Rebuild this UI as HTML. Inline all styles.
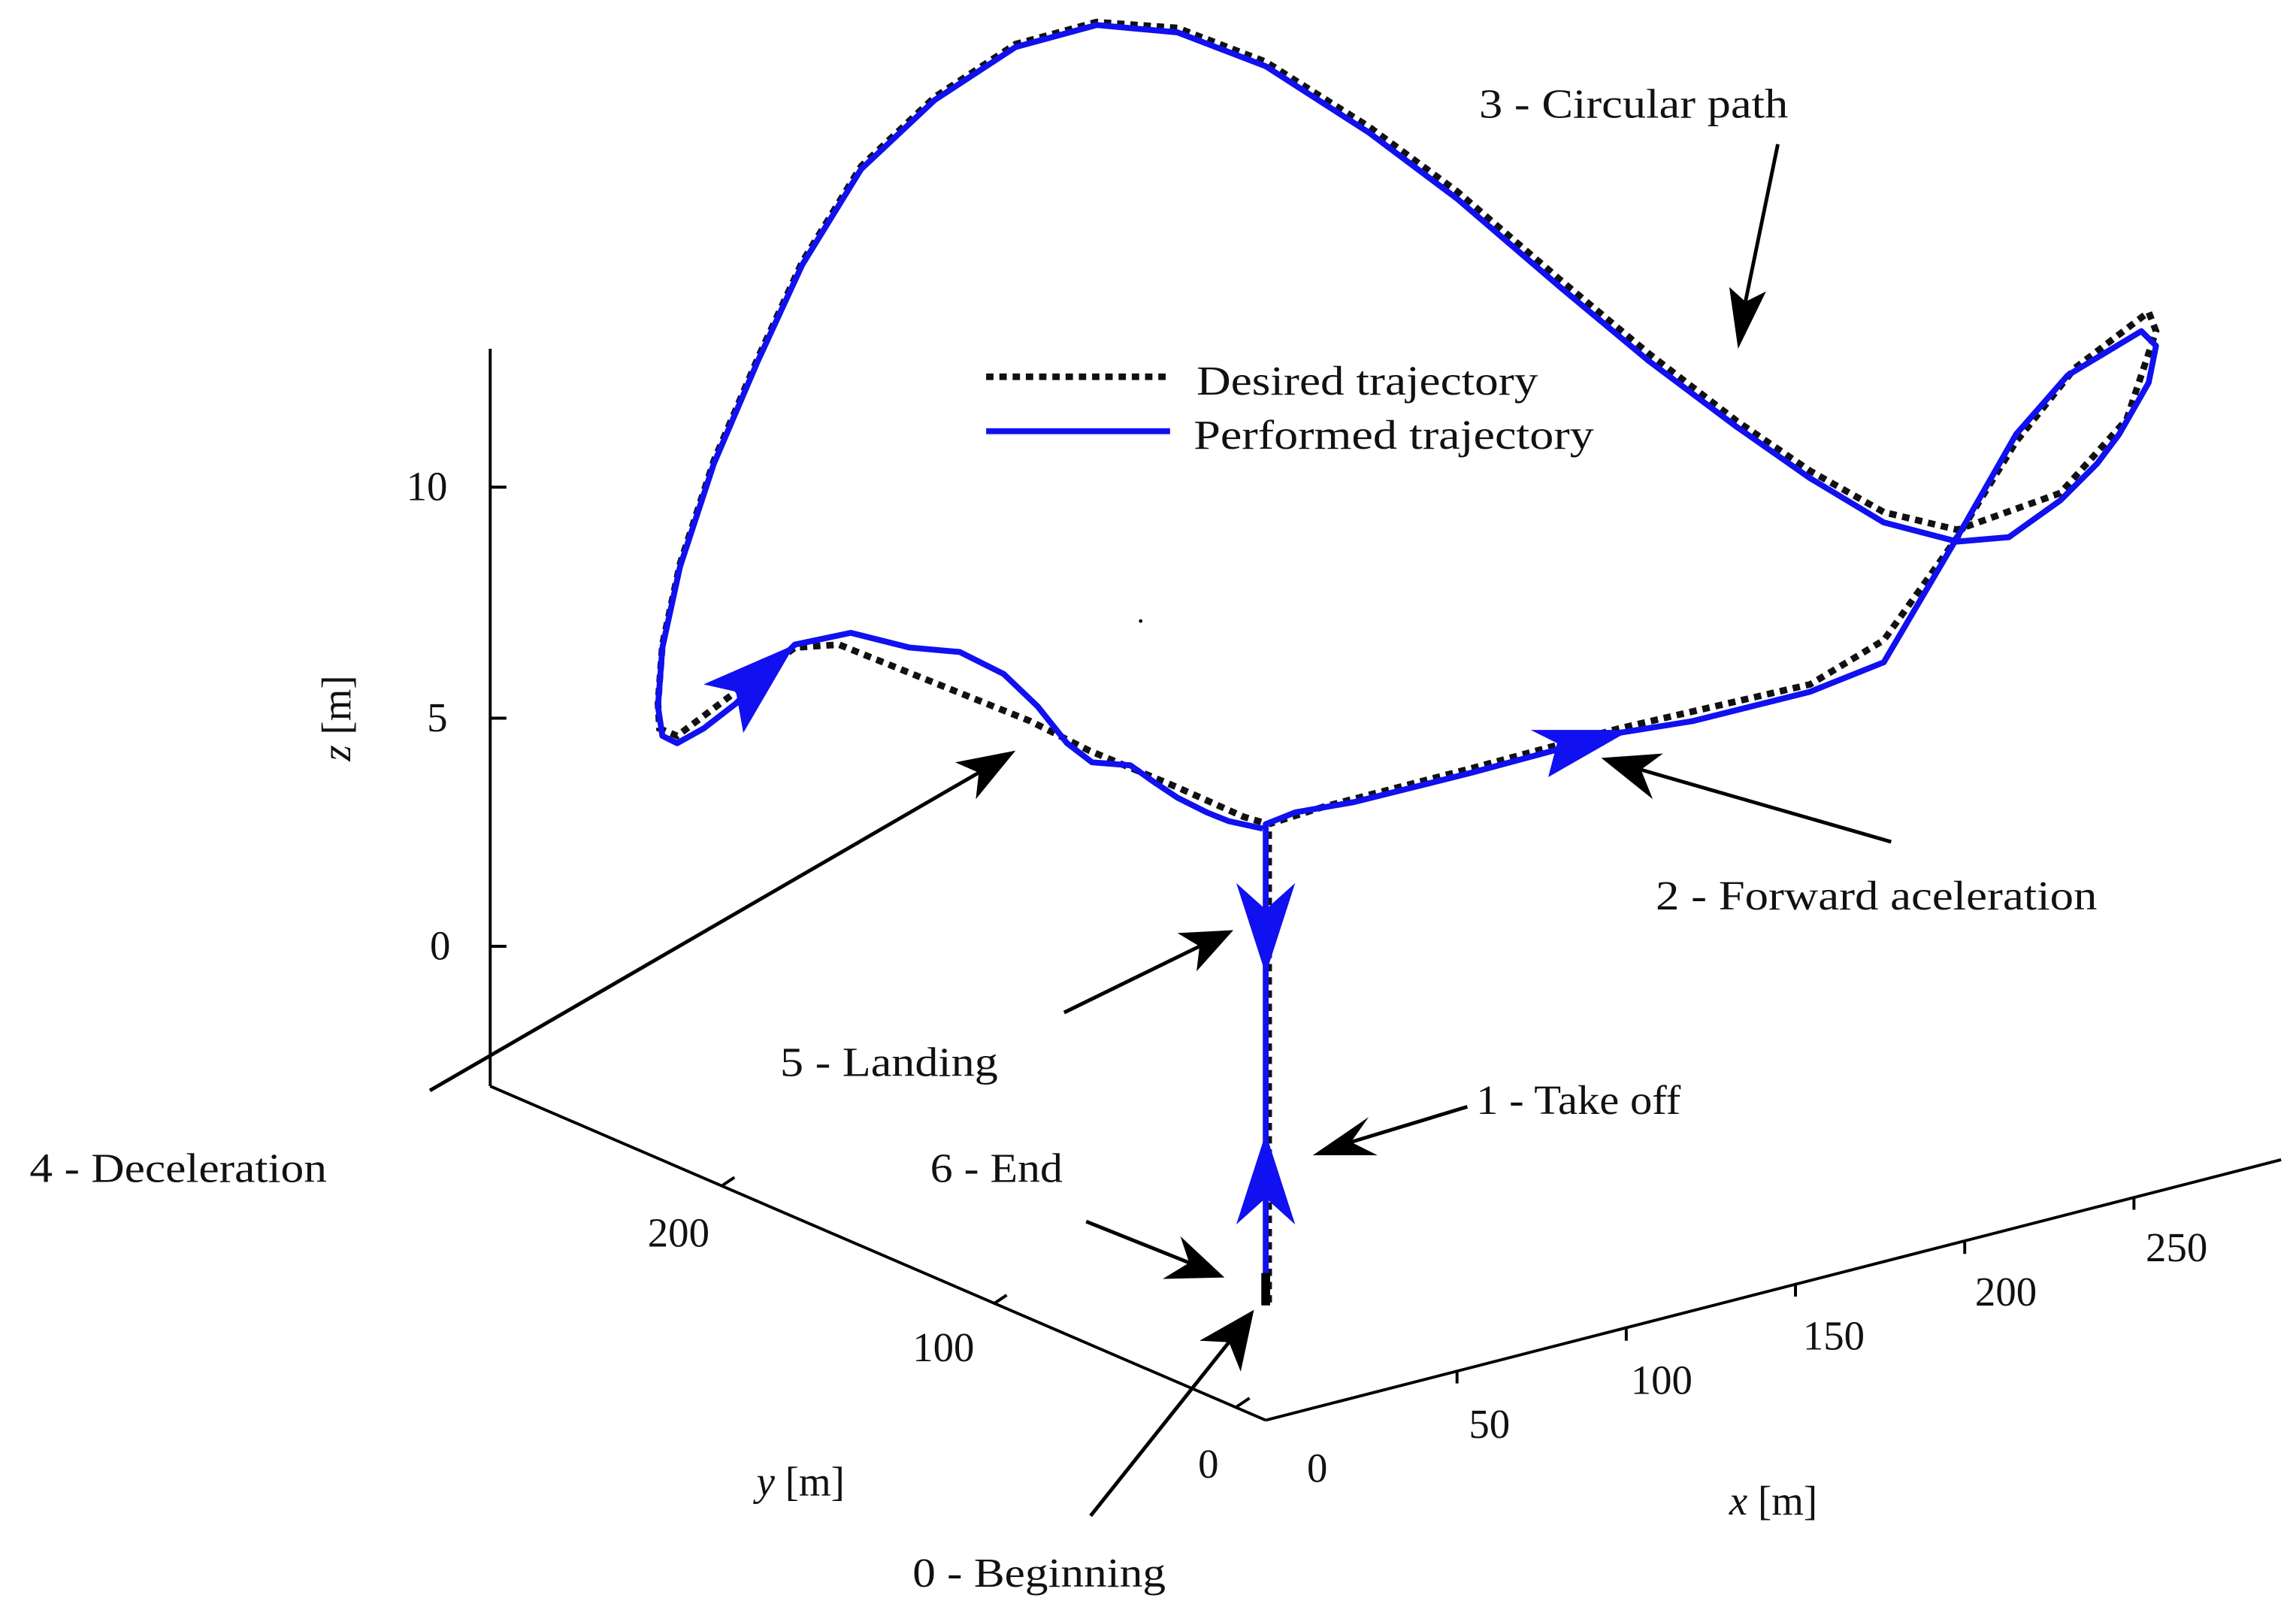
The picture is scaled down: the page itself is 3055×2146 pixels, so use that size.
<!DOCTYPE html>
<html><head><meta charset="utf-8"><style>
html,body{margin:0;padding:0;background:#fff;}
svg{display:block;}
text{font-family:"Liberation Serif",serif;font-size:28px;fill:#111;}
</style></head><body>
<svg width="3055" height="2146" viewBox="0 0 1560 1096" xmlns="http://www.w3.org/2000/svg">
<g stroke="#000" stroke-width="2" fill="none">
<line x1="333" y1="237" x2="333" y2="738"/>
<line x1="333" y1="331" x2="344" y2="331"/>
<line x1="333" y1="488" x2="344" y2="488"/>
<line x1="333" y1="643" x2="344" y2="643"/>
<line x1="333" y1="738" x2="860" y2="965"/>
<line x1="490" y1="806" x2="499" y2="800"/>
<line x1="675" y1="886" x2="684" y2="880"/>
<line x1="840" y1="956" x2="849" y2="950"/>
<line x1="860" y1="965" x2="1550" y2="788"/>
<line x1="990" y1="932" x2="990" y2="940"/>
<line x1="1105" y1="903" x2="1105" y2="911"/>
<line x1="1220" y1="873" x2="1220" y2="881"/>
<line x1="1335" y1="844" x2="1335" y2="852"/>
<line x1="1450" y1="814" x2="1450" y2="822"/>
</g>
<text x="276" y="340">10</text>
<text x="290" y="497">5</text>
<text x="292" y="652">0</text>
<text transform="translate(238,488) rotate(-90)" text-anchor="middle"><tspan font-style="italic">z</tspan> [m]</text>
<text x="440" y="847">200</text>
<text x="620" y="925">100</text>
<text x="814" y="1004">0</text>
<text x="888" y="1007">0</text>
<text x="998" y="977">50</text>
<text x="1108" y="947">100</text>
<text x="1225" y="917">150</text>
<text x="1342" y="887">200</text>
<text x="1458" y="857">250</text>
<text x="1175" y="1029"><tspan font-style="italic">x</tspan> [m]</text>
<text x="514" y="1016"><tspan font-style="italic">y</tspan> [m]</text>

<polyline fill="none" stroke="#111" stroke-width="4.5" stroke-dasharray="5,4" points="862,885 862,560 900,548 1000,522 1100,495 1230,465 1280,435 1330,365 1370,300 1410,250 1460,212 1465,225 1445,285 1400,335 1330,360 1280,348 1230,320 1180,286 1120,240 1060,190 990,130 930,86 860,42 800,19 745,15 690,30 635,66 585,113 545,178 515,243 485,313 462,383 450,438 447,478 448,495 460,500 500,470 540,440 570,438 600,450 700,490 740,510 800,535 845,555 862,560"/>
<polyline fill="none" stroke="#1010f0" stroke-width="4" stroke-linejoin="round" points="860,885 860,560 880,552 920,545 1000,525 1100,498 1150,490 1230,470 1280,450 1330,365 1370,295 1405,255 1455,225 1465,235 1460,260 1440,295 1425,315 1400,340 1365,365 1330,368 1280,355 1230,325 1180,290 1120,245 1060,195 990,135 930,90 860,45 800,22 745,17 690,32 635,68 585,115 545,180 515,245 485,315 462,385 450,440 447,480 450,500 460,505 478,495 500,478 540,438 578,430 618,440 652,443 682,458 705,480 725,505 742,518 768,520 785,532 800,542 820,552 835,558 858,563"/>
<rect x="857" y="865" width="6" height="22" fill="#000"/>
<g fill="#1010f0">
<polygon points="860,662 840,600 860,618 880,600"/>
<polygon points="860,770 840,832 860,814 880,832"/>
<polygon points="1108,496 1040,496 1058,505 1052,528"/>
<polygon points="540,438 478,465 500,470 505,498"/>
</g>
<circle cx="775" cy="422" r="1.2" fill="#000"/>

<line x1="670" y1="256" x2="795" y2="256" stroke="#111" stroke-width="4.5" stroke-dasharray="5,4"/>
<line x1="670" y1="293" x2="795" y2="293" stroke="#1010f0" stroke-width="4"/>
<text x="813" y="268" textLength="232" lengthAdjust="spacingAndGlyphs">Desired trajectory</text>
<text x="811" y="305" textLength="272" lengthAdjust="spacingAndGlyphs">Performed trajectory</text>

<g stroke="#000" stroke-width="2.5" fill="none">
<line x1="1208" y1="98" x2="1186" y2="205"/>
<line x1="1285" y1="572" x2="1115" y2="523"/>
<line x1="292" y1="741" x2="665" y2="525"/>
<line x1="723" y1="688" x2="815" y2="643"/>
<line x1="997" y1="752" x2="918" y2="776"/>
<line x1="738" y1="830" x2="808" y2="858"/>
<line x1="741" y1="1030" x2="835" y2="912"/>
</g>
<g fill="#000">
<polygon points="1181,237 1175,195 1186,205 1200,198"/>
<polygon points="1088,515 1130,512 1115,523 1123,543"/>
<polygon points="690,510 663,543 665,525 649,518"/>
<polygon points="838,632 813,660 815,643 800,634"/>
<polygon points="892,785 930,759 918,776 936,785"/>
<polygon points="832,868 790,869 808,858 802,840"/>
<polygon points="852,890 843,932 835,912 815,911"/>
</g>

<text x="1005" y="80" textLength="210" lengthAdjust="spacingAndGlyphs">3 - Circular path</text>
<text x="1125" y="618" textLength="300" lengthAdjust="spacingAndGlyphs">2 - Forward aceleration</text>
<text x="20" y="803" textLength="202" lengthAdjust="spacingAndGlyphs">4 - Deceleration</text>
<text x="530" y="731" textLength="148" lengthAdjust="spacingAndGlyphs">5 - Landing</text>
<text x="1003" y="757" textLength="139" lengthAdjust="spacingAndGlyphs">1 - Take off</text>
<text x="632" y="803" textLength="90" lengthAdjust="spacingAndGlyphs">6 - End</text>
<text x="620" y="1078" textLength="172" lengthAdjust="spacingAndGlyphs">0 - Beginning</text>
</svg>
</body></html>
